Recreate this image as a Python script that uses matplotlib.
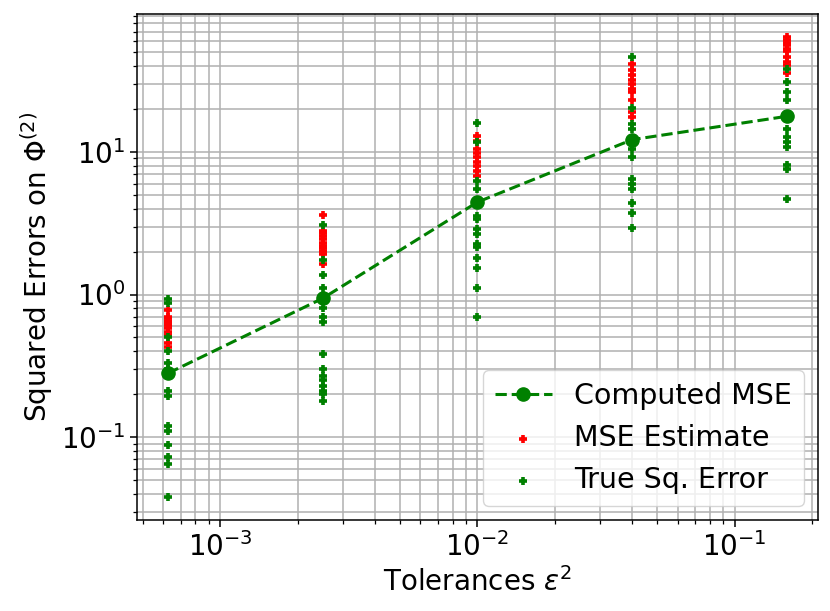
import numpy as np
import matplotlib
matplotlib.use("Agg")
import matplotlib.pyplot as plt

tolerances = [0.000625, 0.0025, 0.01, 0.04, 0.16]
computed_mse = [0.28, 0.94, 4.45, 12.2, 17.8]

mse_estimate = [
    [0.78, 0.70, 0.68, 0.65, 0.63, 0.61, 0.58, 0.55, 0.52, 0.46, 0.43],
    [3.6, 2.8, 2.7, 2.57, 2.44, 2.31, 2.2, 2.13, 2.02, 1.91, 1.63],
    [13.0, 12.0, 10.5, 9.9, 9.2, 8.5, 8.0, 7.4, 6.8],
    [41.7, 37.4, 34.5, 31.8, 30.0, 27.8, 26.3, 23.0, 19.0, 17.5],
    [64.0, 61.0, 58.5, 56.0, 53.0, 51.0, 46.4, 42.8, 40.5, 35.8],
]
true_sq_error = [
    [0.93, 0.87, 0.50, 0.40, 0.33, 0.30, 0.21, 0.195, 0.12, 0.11, 0.088, 0.072, 0.065, 0.038],
    [3.08, 1.76, 1.38, 1.11, 0.81, 0.69, 0.64, 0.38, 0.30, 0.27, 0.25, 0.23, 0.21, 0.20, 0.18],
    [15.9, 11.7, 6.3, 5.5, 3.56, 3.37, 2.87, 2.67, 2.27, 2.15, 1.81, 1.54, 1.11, 0.70],
    [46.4, 20.4, 15.7, 14.5, 10.5, 9.2, 6.45, 5.95, 5.5, 4.4, 3.76, 2.94],
    [38.4, 30.9, 26.3, 23.0, 14.5, 12.7, 11.7, 10.9, 8.1, 7.6, 4.67],
]

FS = 20
plt.rcParams['font.size'] = FS

fig = plt.figure(figsize=(8.3, 6.11), dpi=100)
ax = fig.add_axes([0.165, 0.149, 0.8205, 0.828])

ax.plot(tolerances, computed_mse, 'go--', linewidth=2.2, markersize=9.5,
        label='Computed MSE')

rx = [t for t, vals in zip(tolerances, mse_estimate) for _ in vals]
ry = [v for vals in mse_estimate for v in vals]
gx = [t for t, vals in zip(tolerances, true_sq_error) for _ in vals]
gy = [v for vals in true_sq_error for v in vals]

ax.scatter(rx, ry, marker='+', c='r', s=40, linewidths=2.6, label='MSE Estimate')
ax.scatter(gx, gy, marker='+', c='g', s=40, linewidths=2.6, label='True Sq. Error')

ax.set_xscale('log')
ax.set_yscale('log')
ax.grid(True, which='both', color='#b0b0b0', linewidth=1.1)
ax.set_axisbelow(True)

ax.set_xlabel(r'Tolerances $\varepsilon^2$', fontsize=FS)
ax.set_ylabel(r'Squared Errors on $\Phi^{(2)}$', fontsize=FS)
ax.tick_params(axis='both', which='major', labelsize=FS, length=5, width=1.1)
ax.tick_params(axis='both', which='minor', length=3, width=0.9)
for sp in ax.spines.values():
    sp.set_linewidth(1.1)

ax.legend(loc='lower right', fontsize=20.5)

fig.savefig('out.png', dpi=100)
